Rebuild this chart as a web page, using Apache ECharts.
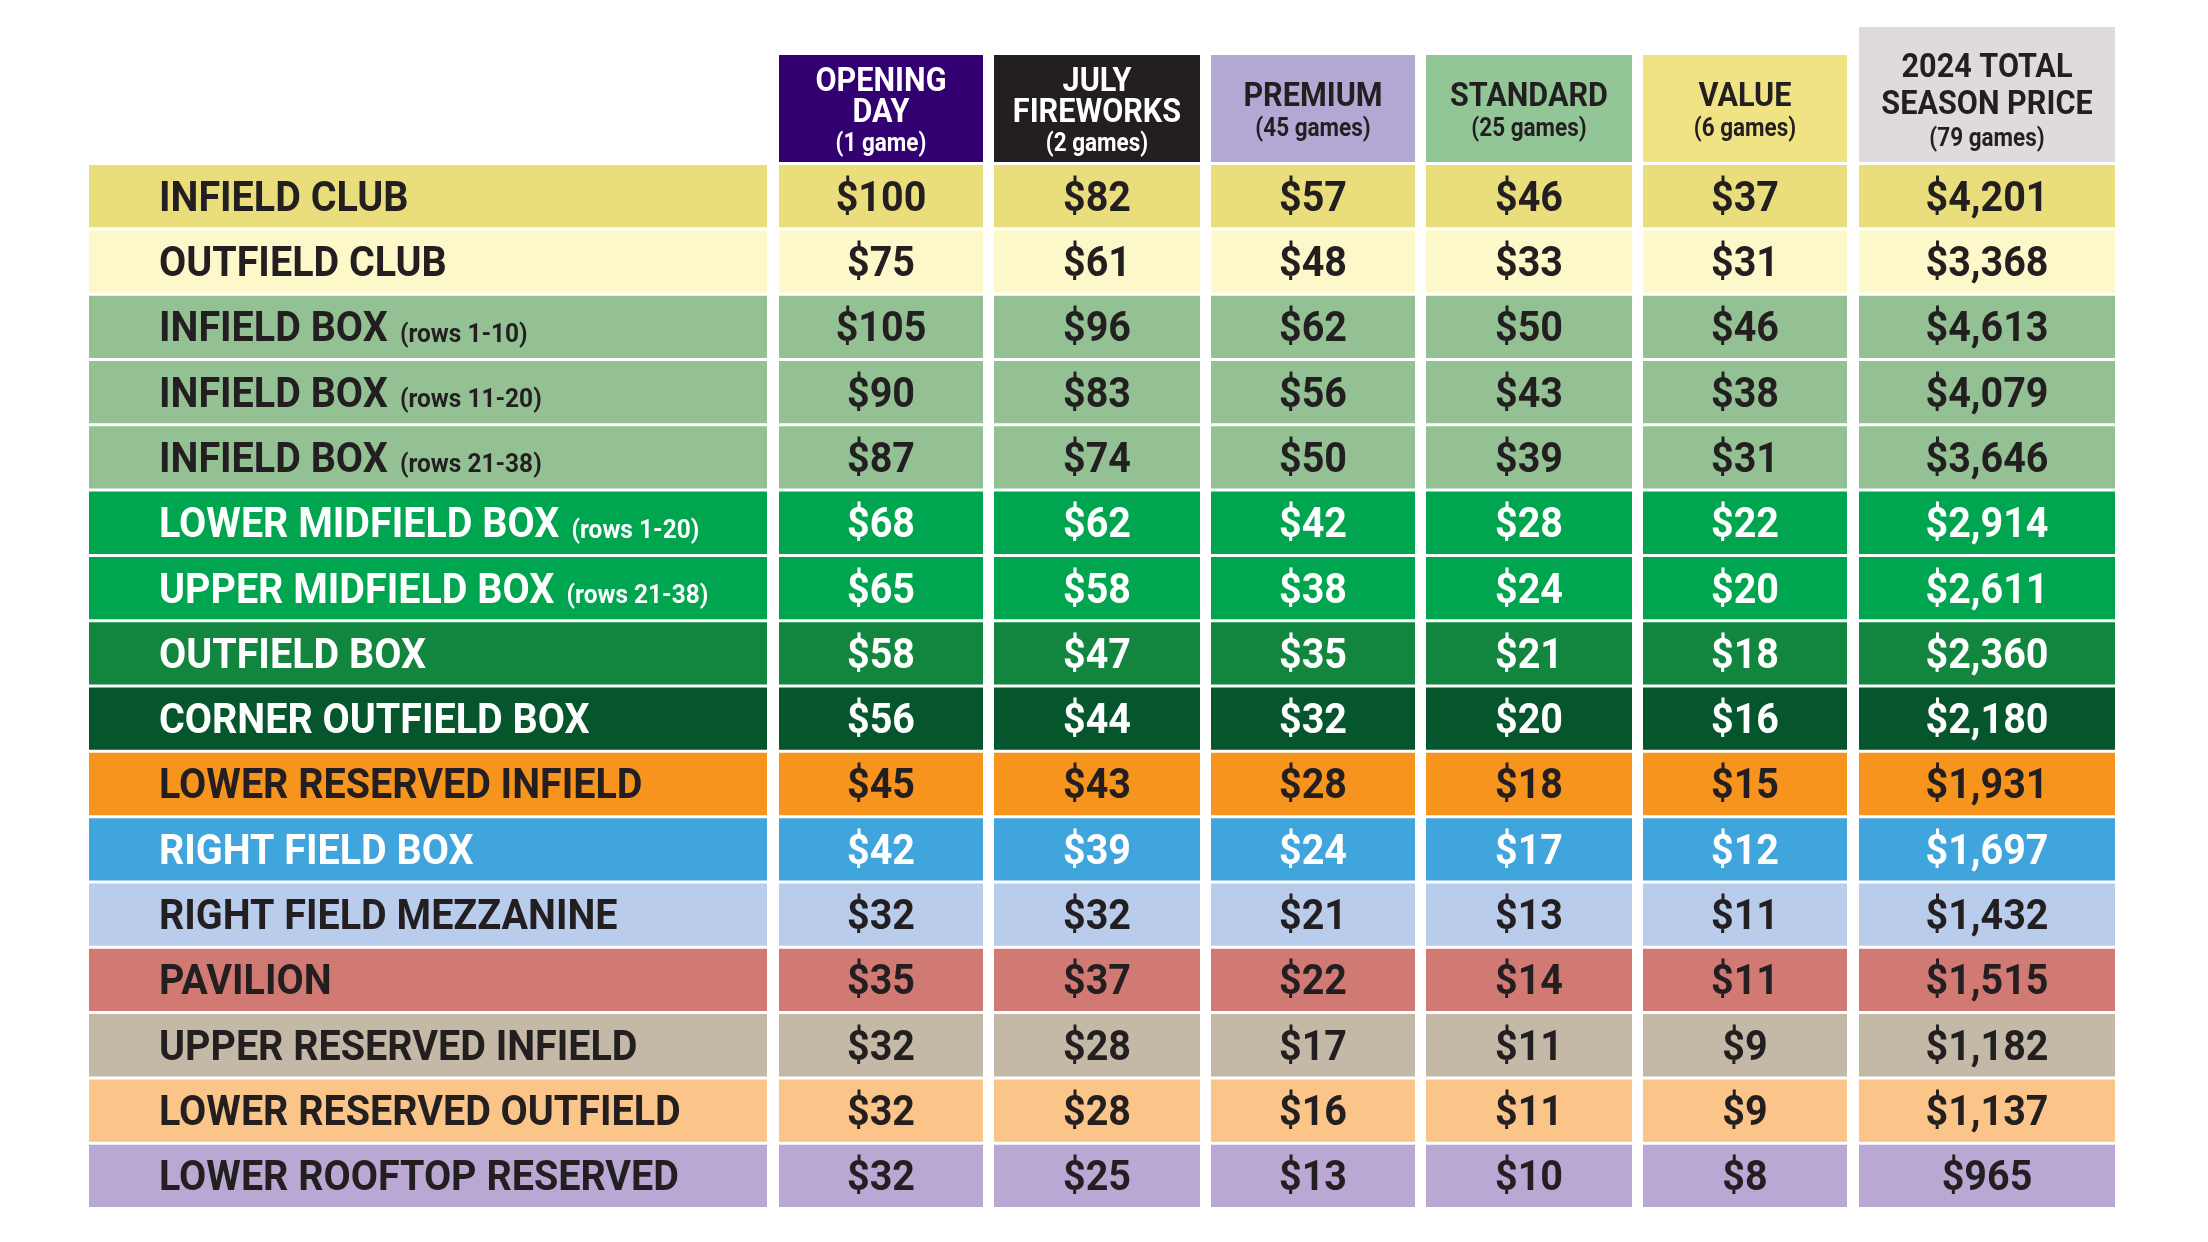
<!DOCTYPE html>
<html><head><meta charset="utf-8">
<script src="https://cdn.jsdelivr.net/npm/echarts@6/dist/echarts.min.js"></script>
<style>html,body{margin:0;padding:0;background:#fff;}#chart{width:2208px;height:1242px;}</style>
</head><body><div id="chart"></div>
<script>
// ---- data ----
const sections = ['INFIELD CLUB', 'OUTFIELD CLUB', 'INFIELD BOX', 'INFIELD BOX', 'INFIELD BOX',
  'LOWER MIDFIELD BOX', 'UPPER MIDFIELD BOX', 'OUTFIELD BOX', 'CORNER OUTFIELD BOX',
  'LOWER RESERVED INFIELD', 'RIGHT FIELD BOX', 'RIGHT FIELD MEZZANINE', 'PAVILION',
  'UPPER RESERVED INFIELD', 'LOWER RESERVED OUTFIELD', 'LOWER ROOFTOP RESERVED'];
const subLabels = ['', '', '(rows 1-10)', '(rows 11-20)', '(rows 21-38)', '(rows 1-20)', '(rows 21-38)',
  '', '', '', '', '', '', '', '', ''];
const openingDay    = [100, 75, 105, 90, 87, 68, 65, 58, 56, 45, 42, 32, 35, 32, 32, 32];
const julyFireworks = [82, 61, 96, 83, 74, 62, 58, 47, 44, 43, 39, 32, 37, 28, 28, 25];
const premium       = [57, 48, 62, 56, 50, 42, 38, 35, 32, 28, 24, 21, 22, 17, 16, 13];
const standard      = [46, 33, 50, 43, 39, 28, 24, 21, 20, 18, 17, 13, 14, 11, 11, 10];
const valuePrice    = [37, 31, 46, 38, 31, 22, 20, 18, 16, 15, 12, 11, 11, 9, 9, 8];
const totalSeason   = [4201, 3368, 4613, 4079, 3646, 2914, 2611, 2360, 2180, 1931, 1697, 1432, 1515, 1182, 1137, 965];
const columnTitles = ['OPENING\nDAY', 'JULY\nFIREWORKS', 'PREMIUM', 'STANDARD', 'VALUE', '2024 TOTAL\nSEASON PRICE'];
const columnGames = ['(1 game)', '(2 games)', '(45 games)', '(25 games)', '(6 games)', '(79 games)'];

// ---- styles / layout ----
const FONT = "Roboto, 'Noto Sans', sans-serif";
const SQUEEZE = 0.94;
const HEAD_SQUEEZE = 0.9;
const DARK = '#231f20';
const rowColors = ['#e9dd7c', '#fdf8ca', '#93c193', '#93c193', '#93c193', '#00a54f', '#00a54f', '#12853f',
  '#05562c', '#f7941d', '#40a5dc', '#b9cceb', '#d17a74', '#c4b8a7', '#fbc589', '#b9a8d3'];
const whiteRows = [5, 6, 7, 8, 10];
const headerColors = ['#330072', '#231f20', '#b3a8d3', '#93c697', '#f0e384', '#dfdadd'];
const headerTextColors = ['#ffffff', '#ffffff', DARK, DARK, DARK, DARK];
const colLeft = [0, 690, 905, 1122, 1337, 1554, 1770];
const colWidth = [678, 204, 206, 204, 206, 204, 256];
const ROW_GAP = 3;

const priceCols = [openingDay, julyFireworks, premium, standard, valuePrice, totalSeason];
const fmt = v => '$' + v.toLocaleString('en-US');

const cellData = [];
sections.forEach((s, r) => { for (let c = 0; c < 7; c++) cellData.push([c, r]); });
const headerData = columnTitles.map((t, i) => [i + 1, 0]);

function renderCell(params, api) {
  const c = api.value(0), r = api.value(1);
  const p0 = api.coord([colLeft[c], r]);
  const p1 = api.coord([colLeft[c] + colWidth[c], r]);
  const band = api.size([0, 1])[1];
  const y = p0[1] - band / 2;
  const h = band - ROW_GAP;
  const fill = whiteRows.indexOf(r) >= 0 ? '#ffffff' : DARK;
  let text, tx, align;
  if (c === 0) {
    text = '{m|' + sections[r] + '}' + (subLabels[r] ? '{s|' + subLabels[r] + '}' : '');
    tx = p0[0] + 70; align = 'left';
  } else {
    text = '{m|' + fmt(priceCols[c - 1][r]) + '}';
    tx = (p0[0] + p1[0]) / 2; align = 'center';
  }
  return {
    type: 'group',
    children: [
      { type: 'rect', shape: { x: p0[0], y: y, width: p1[0] - p0[0], height: h }, style: { fill: rowColors[r] } },
      { type: 'text', x: tx, y: y + h / 2 + 4, scaleX: SQUEEZE,
        style: { text: text, fill: fill, align: align, verticalAlign: 'middle',
          rich: {
            m: { fontFamily: FONT, fontWeight: 'bold', fontSize: 42, lineHeight: 44, fill: fill },
            s: { fontFamily: FONT, fontWeight: 'bold', fontSize: 26, padding: [9, 0, 0, 13], fill: fill }
          } } }
    ]
  };
}

function renderHeader(params, api) {
  const c = api.value(0);
  const p0 = api.coord([colLeft[c], 0]);
  const p1 = api.coord([colLeft[c] + colWidth[c], 0]);
  const band = api.size([0, 1])[1];
  const bottom = p0[1] - band / 2 - ROW_GAP;
  const isTotal = c === 6;
  const hh = isTotal ? 135 : 107;
  const fill = headerTextColors[c - 1];
  const titleLH = isTotal ? 37 : 31;
  const lines = columnTitles[c - 1].split('\n').map(t => '{t|' + t + '}').join('\n');
  return {
    type: 'group',
    children: [
      { type: 'rect', shape: { x: p0[0], y: bottom - hh, width: p1[0] - p0[0], height: hh }, style: { fill: headerColors[c - 1] } },
      { type: 'text', x: (p0[0] + p1[0]) / 2, y: bottom - (isTotal ? 59 : 48), scaleX: HEAD_SQUEEZE,
        style: { text: lines + '\n{g|' + columnGames[c - 1] + '}', fill: fill, align: 'center', verticalAlign: 'middle',
          rich: {
            t: { fontFamily: FONT, fontWeight: 'bold', fontSize: 34, lineHeight: titleLH, fill: fill, align: 'center' },
            g: { fontFamily: FONT, fontWeight: 'bold', fontSize: 25, lineHeight: 33, fill: fill, align: 'center' }
          } } }
    ]
  };
}

const chart = echarts.init(document.getElementById('chart'), null, { renderer: 'canvas', width: 2208, height: 1242 });
chart.setOption({
  backgroundColor: '#ffffff',
  animation: false,
  grid: { left: 89, right: 93, top: 165, bottom: 32 },
  xAxis: { type: 'value', min: 0, max: 2026, show: false },
  yAxis: { type: 'category', inverse: true, data: sections.map((s, i) => s + ' ' + subLabels[i]), show: false },
  series: [
    { type: 'custom', name: 'cells', data: cellData, renderItem: renderCell, clip: false },
    { type: 'custom', name: 'headers', data: headerData, renderItem: renderHeader, clip: false }
  ]
});
</script></body></html>
